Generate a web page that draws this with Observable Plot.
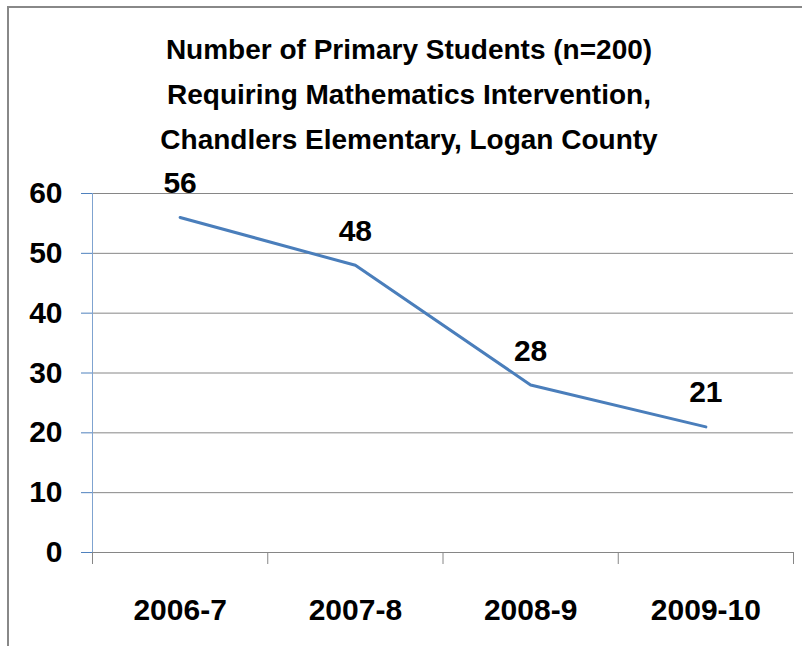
<!DOCTYPE html>
<html>
<head>
<meta charset="utf-8">
<script src="https://cdn.jsdelivr.net/npm/d3@7"></script>
<script src="https://cdn.jsdelivr.net/npm/@observablehq/plot@0.6"></script>
<style>
  html, body { margin: 0; padding: 0; background: #fff; }
  #wrap { position: relative; width: 802px; height: 646px; overflow: hidden; }
  #border { position: absolute; left: 7px; top: 6px; right: -10px; bottom: -10px;
            border-top: 2px solid #888; border-left: 2px solid #888; pointer-events: none; }
</style>
</head>
<body>
<div id="wrap"><div id="border"></div></div>
<script>
const categories = ["2006-7", "2007-8", "2008-9", "2009-10"];
const values = [56, 48, 28, 21];
const yTicks = [0, 10, 20, 30, 40, 50, 60];
const titleLines = [
  "Number of Primary Students (n=200)",
  "Requiring Mathematics Intervention,",
  "Chandlers Elementary, Logan County"
];

const data = categories.map((c, i) => ({cat: c, pos: i + 0.5, value: values[i]}));
const FONT = "'Liberation Sans Narrow', 'Arial Narrow', 'Liberation Sans', sans-serif";

const chart = Plot.plot({
  width: 802,
  height: 646,
  marginLeft: 92,
  marginRight: 9,
  marginTop: 193,
  marginBottom: 94,
  style: {fontFamily: FONT, background: "transparent", overflow: "visible"},
  x: {domain: [0, categories.length], axis: null, label: null},
  y: {domain: [0, 60], axis: null, label: null},
  marks: [
    Plot.gridY(yTicks, {stroke: "#868686", strokeOpacity: 1, strokeWidth: 1}),
    Plot.axisX([0, 1, 2, 3, 4], {tickSize: 12, tickFormat: () => "", stroke: "#868686", label: null}),
    Plot.axisX(data.map(d => d.pos), {
      tickSize: 0, tickPadding: 46, fontSize: 30, fontWeight: "bold", fill: "#000",
      tickFormat: p => categories[Math.floor(p)], label: null
    }),
    Plot.ruleY([0], {stroke: "#868686"}),
    Plot.axisY(yTicks, {
      tickSize: 11, tickPadding: 19, stroke: "#4F81BD", fontSize: 30, fontWeight: "bold", fill: "#000",
      label: null
    }),
    Plot.ruleX([0], {stroke: "#7FA3D0", strokeWidth: 1}),
    Plot.line(data, {x: "pos", y: "value", stroke: "#4A7EBB", strokeWidth: 3}),
    Plot.text(data, {x: "pos", y: "value", text: d => String(d.value), dy: -34,
      fontSize: 30, fontWeight: "bold", fill: "#000"}),
    Plot.text([titleLines.join("\n")], {
      frameAnchor: "top", dx: -34, dy: -166, lineAnchor: "top", lineHeight: 1.6,
      fontSize: 28, fontWeight: "bold", fill: "#000", text: d => d
    })
  ]
});
document.getElementById("wrap").prepend(chart);
</script>
</body>
</html>
